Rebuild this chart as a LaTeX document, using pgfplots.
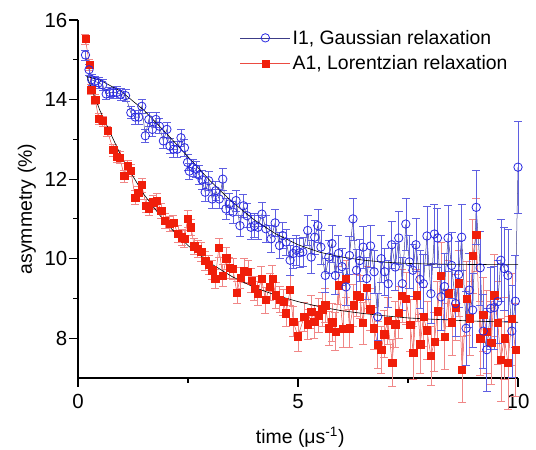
\documentclass[border=0pt]{standalone}
\usepackage{fontspec}
\setmainfont{Liberation Sans}
\usepackage{pgfplots}
\usepackage{pgfplotstable}
\pgfplotsset{compat=1.18}

\definecolor{iblue}{RGB}{40,40,225}
\definecolor{iblueerr}{RGB}{95,95,225}
\definecolor{ibluel}{RGB}{60,60,135}
\definecolor{ared}{RGB}{240,30,10}
\definecolor{aredl}{RGB}{235,75,65}
\definecolor{arederr}{RGB}{240,135,135}

% I1: t, asymmetry, error
\pgfplotstableread{
t y e
0.17 15.12 0.13
0.25 14.75 0.13
0.31 14.50 0.13
0.38 14.46 0.13
0.47 14.42 0.13
0.56 14.37 0.13
0.64 14.14 0.13
0.72 14.18 0.13
0.80 14.17 0.15
0.88 14.18 0.15
0.97 14.13 0.15
1.08 14.10 0.15
1.20 13.67 0.15
1.30 13.56 0.17
1.38 13.56 0.17
1.45 13.83 0.17
1.53 13.09 0.17
1.61 13.50 0.17
1.69 13.25 0.17
1.77 13.50 0.19
1.85 13.33 0.19
1.94 12.96 0.19
2.02 13.25 0.19
2.09 12.83 0.19
2.17 12.75 0.19
2.25 12.75 0.21
2.34 13.04 0.21
2.42 12.79 0.21
2.49 12.42 0.21
2.53 12.20 0.21
2.61 12.29 0.21
2.68 12.25 0.21
2.75 12.10 0.24
2.82 11.98 0.24
2.89 11.67 0.24
2.97 11.96 0.24
3.05 11.50 0.24
3.13 11.71 0.24
3.21 11.50 0.24
3.29 12.00 0.27
3.36 11.25 0.27
3.44 11.38 0.27
3.52 11.17 0.27
3.59 11.46 0.27
3.68 10.83 0.27
3.76 11.33 0.30
3.84 11.08 0.30
3.93 10.79 0.30
4.01 10.83 0.30
4.09 10.79 0.30
4.18 11.12 0.30
4.27 10.75 0.33
4.39 10.50 0.33
4.48 10.90 0.33
4.58 10.33 0.33
4.65 10.58 0.33
4.73 10.42 0.33
4.82 9.96 0.37
4.89 10.13 0.37
4.96 10.21 0.37
5.04 10.15 0.37
5.11 10.17 0.37
5.22 10.71 0.37
5.30 10.04 0.42
5.38 10.54 0.42
5.45 10.83 0.42
5.52 10.29 0.42
5.62 9.58 0.42
5.70 10.04 0.42
5.77 10.38 0.47
5.85 9.58 0.47
5.92 10.13 0.47
6.00 9.80 0.47
6.09 9.29 0.47
6.17 10.08 0.47
6.25 11.00 0.53
6.33 9.71 0.53
6.40 9.95 0.53
6.48 10.29 0.53
6.56 9.50 0.53
6.65 10.32 0.53
6.73 9.67 0.53
6.81 8.54 0.59
6.89 10.00 0.59
6.97 9.67 0.59
7.05 9.37 0.59
7.13 10.35 0.59
7.21 9.79 0.59
7.29 10.52 0.66
7.37 9.37 0.66
7.45 10.87 0.66
7.53 9.92 0.66
7.61 9.71 0.66
7.68 10.35 0.66
7.77 9.48 0.74
7.85 9.37 0.74
7.93 10.57 0.74
8.02 9.12 0.74
8.10 10.62 0.74
8.17 10.52 0.74
8.25 9.04 0.83
8.33 9.30 0.83
8.41 10.52 0.83
8.49 9.83 0.83
8.58 8.87 0.83
8.65 9.60 0.83
8.72 10.54 0.83
8.82 8.25 0.93
8.89 9.21 0.93
8.97 8.71 0.93
9.05 11.29 0.93
9.14 9.77 0.93
9.21 8.18 0.93
9.29 7.71 1.04
9.38 8.75 1.04
9.46 8.77 1.04
9.54 8.92 1.04
9.61 9.96 1.04
9.69 9.75 1.04
9.77 9.58 1.16
9.86 8.18 1.16
9.94 8.93 1.16
10.00 12.30 1.16
}\gaussdata

% A1: t, asymmetry, error
\pgfplotstableread{
t y e
0.17 15.52 0.13
0.26 14.87 0.13
0.30 14.25 0.13
0.39 14.00 0.13
0.47 13.52 0.13
0.56 13.46 0.13
0.67 13.21 0.13
0.80 12.73 0.15
0.88 12.57 0.15
0.95 12.54 0.15
1.05 12.08 0.15
1.13 12.33 0.15
1.20 12.21 0.15
1.30 11.54 0.17
1.37 11.65 0.17
1.45 11.85 0.17
1.55 11.33 0.17
1.61 11.25 0.17
1.71 11.42 0.17
1.79 11.46 0.19
1.89 11.21 0.19
1.98 10.96 0.19
2.08 10.87 0.19
2.17 10.90 0.19
2.27 10.63 0.21
2.36 10.54 0.21
2.42 10.50 0.21
2.49 11.00 0.21
2.57 10.79 0.21
2.64 10.31 0.21
2.72 10.25 0.21
2.80 10.17 0.24
2.89 9.94 0.24
2.97 9.85 0.24
3.05 9.71 0.24
3.12 9.50 0.24
3.20 10.27 0.24
3.29 9.58 0.27
3.37 10.01 0.27
3.44 9.77 0.27
3.52 9.75 0.27
3.61 9.15 0.27
3.69 9.52 0.27
3.77 9.70 0.30
3.86 9.67 0.30
3.94 9.45 0.30
4.01 9.25 0.30
4.08 9.12 0.30
4.17 9.50 0.30
4.26 8.96 0.33
4.36 9.29 0.33
4.42 9.50 0.33
4.49 9.08 0.33
4.58 8.97 0.33
4.67 8.91 0.33
4.73 8.63 0.33
4.82 9.21 0.37
4.89 8.42 0.37
5.00 8.05 0.37
5.14 8.54 0.37
5.22 8.35 0.37
5.30 8.67 0.42
5.37 8.42 0.42
5.47 8.58 0.42
5.55 8.73 0.42
5.62 8.83 0.42
5.70 8.25 0.42
5.78 8.40 0.47
5.85 8.17 0.47
5.92 9.33 0.47
6.02 8.23 0.47
6.09 9.50 0.47
6.17 8.25 0.47
6.26 8.83 0.53
6.33 9.08 0.53
6.41 9.04 0.53
6.48 8.38 0.53
6.56 9.27 0.53
6.64 8.73 0.53
6.73 8.25 0.53
6.81 7.83 0.59
6.89 7.71 0.59
6.96 8.10 0.59
7.04 8.43 0.59
7.14 7.38 0.59
7.21 8.35 0.59
7.29 8.65 0.66
7.36 9.07 0.66
7.45 9.00 0.66
7.55 8.33 0.66
7.62 7.63 0.66
7.70 9.08 0.66
7.78 7.85 0.74
7.85 8.54 0.74
7.93 8.20 0.74
8.02 7.55 0.74
8.10 7.92 0.74
8.17 8.68 0.74
8.25 9.58 0.83
8.33 8.04 0.83
8.42 9.13 0.83
8.50 8.40 0.83
8.58 8.77 0.83
8.65 9.38 0.83
8.73 7.21 0.83
8.83 9.00 0.93
8.90 8.50 0.93
8.97 10.07 0.93
9.05 10.60 0.93
9.14 8.00 0.93
9.21 8.60 0.93
9.29 8.17 1.04
9.39 7.88 1.04
9.46 9.08 1.04
9.54 8.38 1.04
9.61 7.46 1.04
9.69 8.00 1.04
9.77 7.38 1.16
9.86 8.48 1.16
9.94 7.71 1.16
}\lorentzdata

\begin{document}
\begin{tikzpicture}
\begin{axis}[
    scale only axis,
    width=440bp, height=358bp,
    xmin=0, xmax=10,
    ymin=7, ymax=16,
    clip=false,
    axis x line=bottom, axis y line=left,
    axis line style={-, line width=1.3bp},
    xtick={0,5,10}, minor xtick={2.5,7.5},
    ytick={8,10,12,14,16}, minor ytick={9,11,13,15},
    tick align=outside,
    major tick length=9bp, minor tick length=5bp,
    tick style={black, line width=1.2bp},
    /pgf/number format/assume math mode=true,
    ticklabel style={font=\fontsize{20.5}{24}\selectfont},
    xticklabel style={inner sep=7bp},
    yticklabel style={inner sep=1.5bp},
    xlabel={time (μs\textsuperscript{-1})},
    ylabel={asymmetry (\%)},
    label style={font=\fontsize{19.5}{23}\selectfont},
    xlabel style={at={(rel axis cs:0.505,-0.166)}, anchor=center},
    ylabel style={at={(rel axis cs:-0.116,0.472)}, anchor=center, rotate=0},
    legend style={draw=none, fill=none, at={(rel axis cs:0.368,0.978)},
        anchor=north west, font=\fontsize{19.5}{23}\selectfont,
        inner sep=0pt, row sep=6bp},
    legend cell align=left,
    legend image code/.code={
        \draw[mark repeat=2, mark phase=2] plot coordinates {(0bp,0bp) (25bp,0bp) (50bp,0bp)};
    },
    reverse legend,
]

% A1 data
\addplot[aredl, line width=0.5bp, mark=square*, mark size=3.6bp,
    mark options={draw=ared, fill=ared, solid},
    error bars/.cd, y dir=both, y explicit,
    error bar style={arederr, line width=0.6bp},
    error mark options={rotate=90, arederr, mark size=4bp, line width=0.6bp}]
    table[x=t, y=y, y error=e] {\lorentzdata};
\addlegendentry{A1, Lorentzian relaxation}

% I1 data
\addplot[ibluel, line width=0.5bp, mark=o, mark size=4.2bp,
    mark options={draw=iblue, fill=white, line width=0.8bp, solid},
    error bars/.cd, y dir=both, y explicit,
    error bar style={iblueerr, line width=0.6bp},
    error mark options={rotate=90, iblueerr, mark size=4bp, line width=0.6bp}]
    table[x=t, y=y, y error=e] {\gaussdata};
\addlegendentry{I1, Gaussian relaxation}

% Gaussian fit
\addplot[black, line width=0.6bp, forget plot] coordinates {
(0.2,14.58) (0.5,14.49) (1,14.19) (1.5,13.73) (2,13.16) (2.5,12.56)
(3,11.96) (3.5,11.43) (4,10.98) (4.5,10.62) (5,10.35) (5.5,10.16)
(6,10.04) (6.5,9.96) (7,9.91) (7.5,9.88) (8,9.865) (9,9.853) (10,9.85)
};

% Lorentzian fit
\addplot[black, line width=0.6bp, forget plot] coordinates {
(0.2,14.59) (0.5,13.72) (1,12.53) (1.5,11.61) (2,10.89) (2.5,10.33)
(3,9.89) (3.5,9.55) (4,9.28) (4.5,9.08) (5,8.92) (5.5,8.79)
(6,8.69) (6.5,8.62) (7,8.56) (7.5,8.51) (8,8.48) (9,8.43) (10,8.40)
};

\coordinate (bbl) at (rel axis cs:-0.1773,-0.1997);
\coordinate (btr) at (rel axis cs:1.0409,1.0559);
\end{axis}
\pgfresetboundingbox
\path[use as bounding box] (bbl) rectangle (btr);
\end{tikzpicture}
\end{document}
